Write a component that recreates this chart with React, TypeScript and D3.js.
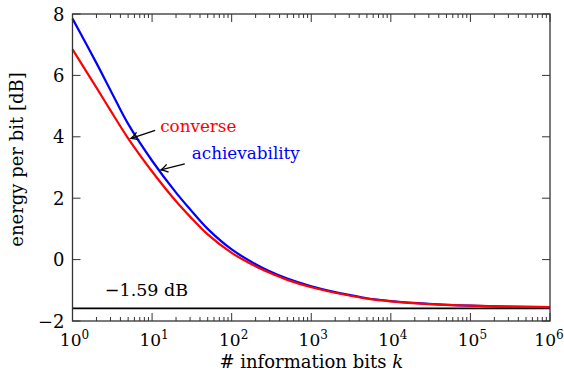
import React, { useEffect, useRef } from 'react';
import * as d3 from 'd3';

// number of information bits k
const bits = [1, 2, 3, 5, 10, 20, 30, 50, 100, 200, 300, 500, 1e3, 2e3, 3e3, 5e3, 1e4, 3e4, 1e5, 3e5, 1e6];
// minimum energy per bit [dB]
const converse = [6.85, 5.6, 4.86, 3.95, 2.87, 1.9, 1.4, 0.82, 0.22, -0.22, -0.43, -0.66, -0.9, -1.08, -1.17, -1.27, -1.36, -1.45, -1.5, -1.53, -1.55];
const achievability = [7.85, 6.4, 5.52, 4.42, 3.22, 2.18, 1.64, 1.0, 0.33, -0.15, -0.38, -0.62, -0.87, -1.06, -1.15, -1.26, -1.35, -1.44, -1.5, -1.53, -1.55];
const limitDb = -1.59;
const yTicks = [-2, 0, 2, 4, 6, 8];
const xExponents = [0, 1, 2, 3, 4, 5, 6];

const W = 564, H = 374;
const margin = { top: 14, right: 14, bottom: 53, left: 72.5 };
const FONT = "'DejaVu Serif', 'Liberation Serif', serif";

export default function App() {
  const ref = useRef<SVGSVGElement>(null);

  useEffect(() => {
    const svg = d3.select(ref.current);
    svg.selectAll('*').remove();

    const x = d3.scaleLog().domain([1, 1e6]).range([margin.left, W - margin.right]);
    const y = d3.scaleLinear().domain([-2, 8]).range([H - margin.bottom, margin.top]);
    const [x0, x1] = x.range();
    const [y0, y1] = y.range();

    const defs = svg.append('defs');
    defs.append('marker')
      .attr('id', 'arr')
      .attr('viewBox', '-10 -6 12 12')
      .attr('markerWidth', 12).attr('markerHeight', 12)
      .attr('markerUnits', 'userSpaceOnUse')
      .attr('refX', 0).attr('refY', 0)
      .attr('orient', 'auto')
      .append('path')
      .attr('d', 'M-7,-4 Q-3,-1 0,0 Q-3,1 -7,4')
      .attr('fill', 'none').attr('stroke', '#000').attr('stroke-width', 1.3);

    // limit line
    svg.append('line')
      .attr('x1', x0).attr('x2', x1)
      .attr('y1', y(limitDb)).attr('y2', y(limitDb))
      .attr('stroke', '#000').attr('stroke-width', 1.6);
    svg.append('text')
      .attr('x', x(2.55)).attr('y', y(limitDb) - 12)
      .style('font-size', '17.5px')
      .text('\u22121.59 dB');

    const line = d3.line<number>()
      .x((_, i) => x(bits[i]))
      .y(d => y(d))
      .curve(d3.curveCatmullRom.alpha(0.5));

    svg.append('path').attr('d', line(achievability)!)
      .attr('fill', 'none').attr('stroke', '#0000ff').attr('stroke-width', 2.2);
    svg.append('path').attr('d', line(converse)!)
      .attr('fill', 'none').attr('stroke', '#ff0000').attr('stroke-width', 2.2);

    // annotations
    const notes = [
      { text: 'converse', color: '#ff0000', k: 5.3, v: 3.95, dx: 25, dy: -8, tx: 30, ty: -6 },
      { text: 'achievability', color: '#0000ff', k: 12.5, v: 2.92, dx: 25, dy: -6, tx: 32, ty: -11 },
    ];
    notes.forEach(n => {
      const px = x(n.k), py = y(n.v);
      svg.append('line')
        .attr('x1', px + n.dx).attr('y1', py + n.dy)
        .attr('x2', px + 1).attr('y2', py)
        .attr('stroke', '#000').attr('stroke-width', 1.3)
        .attr('marker-end', 'url(#arr)');
      svg.append('text')
        .attr('x', px + n.tx).attr('y', py + n.ty)
        .style('font-size', '16.8px')
        .attr('fill', n.color)
        .text(n.text);
    });

    // frame
    svg.append('rect')
      .attr('x', x0).attr('y', y1).attr('width', x1 - x0).attr('height', y0 - y1)
      .attr('fill', 'none').attr('stroke', '#333').attr('stroke-width', 1.3);

    const tickG = svg.append('g').attr('stroke', '#333').attr('stroke-width', 1);
    // y ticks, both sides
    yTicks.forEach(t => {
      tickG.append('line').attr('x1', x0).attr('x2', x0 + 8).attr('y1', y(t)).attr('y2', y(t));
      tickG.append('line').attr('x1', x1).attr('x2', x1 - 8).attr('y1', y(t)).attr('y2', y(t));
    });
    // x ticks, major and minor, top and bottom
    x.ticks().forEach(t => {
      const major = Math.abs(Math.log10(t) - Math.round(Math.log10(t))) < 1e-9;
      const len = major ? 8 : 4;
      tickG.append('line').attr('x1', x(t)).attr('x2', x(t)).attr('y1', y0).attr('y2', y0 - len);
      tickG.append('line').attr('x1', x(t)).attr('x2', x(t)).attr('y1', y1).attr('y2', y1 + len);
    });

    // tick labels
    svg.append('g').selectAll('text').data(yTicks).join('text')
      .attr('x', x0 - 8).attr('y', d => y(d) + 6.5)
      .attr('text-anchor', 'end')
      .style('font-size', '18px')
      .text(d => (d < 0 ? '\u2212' + Math.abs(d) : String(d)));

    const xl = svg.append('g').selectAll('text').data(xExponents).join('text')
      .attr('x', d => x(Math.pow(10, d)) + (d === 6 ? -1 : 2)).attr('y', y0 + 25)
      .attr('text-anchor', 'middle')
      .style('font-size', '17px');
    xl.append('tspan').text('10');
    xl.append('tspan').attr('dy', -7).style('font-size', '12px').text(d => String(d));

    // axis titles
    const xt = svg.append('text')
      .attr('x', (x0 + x1) / 2).attr('y', H - 6)
      .attr('text-anchor', 'middle')
      .style('font-size', '18px');
    xt.append('tspan').text('# information bits ');
    xt.append('tspan').style('font-style', 'italic').text('k');

    svg.append('text')
      .attr('transform', `translate(23,${(y0 + y1) / 2 - 8}) rotate(-90)`)
      .attr('text-anchor', 'middle')
      .style('font-size', '18px')
      .text('energy per bit [dB]');
  }, []);

  return (
    <svg ref={ref} width={W} height={H}
      style={{ position: 'absolute', left: 0, top: 0, background: '#fff', fontFamily: FONT }} />
  );
}
